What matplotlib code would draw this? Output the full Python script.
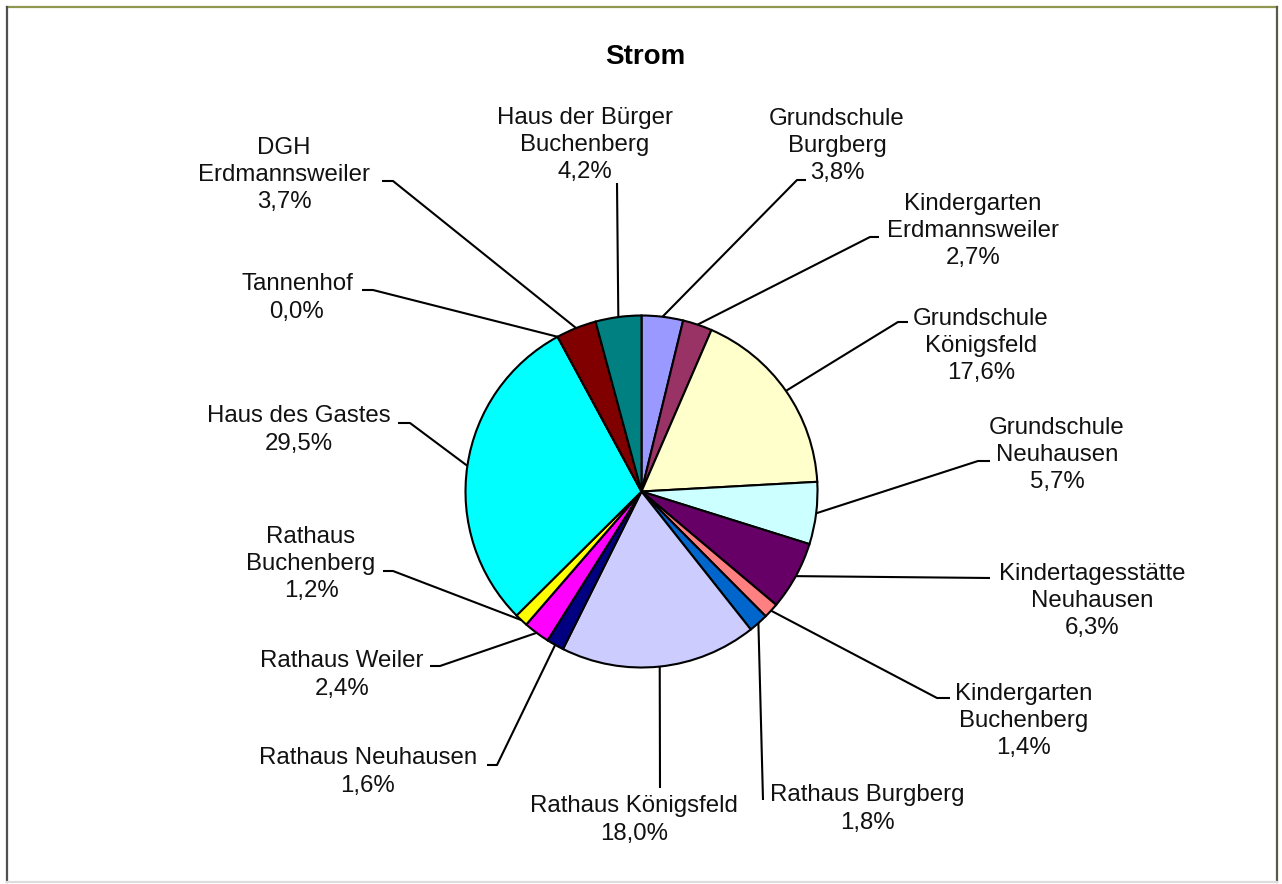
import numpy as np
import matplotlib
matplotlib.use("Agg")
import matplotlib.pyplot as plt
from matplotlib.lines import Line2D

# ---------------- data ----------------
title = "Strom"
labels = [
    "Grundschule\nBurgberg",
    "Kindergarten\nErdmannsweiler",
    "Grundschule\nKönigsfeld",
    "Grundschule\nNeuhausen",
    "Kindertagesstätte\nNeuhausen",
    "Kindergarten\nBuchenberg",
    "Rathaus Burgberg",
    "Rathaus Königsfeld",
    "Rathaus Neuhausen",
    "Rathaus Weiler",
    "Rathaus\nBuchenberg",
    "Haus des Gastes",
    "Tannenhof",
    "DGH\nErdmannsweiler",
    "Haus der Bürger\nBuchenberg",
]
values = [3.8, 2.7, 17.6, 5.7, 6.3, 1.4, 1.8, 18.0, 1.6, 2.4, 1.2, 29.5, 0.0, 3.7, 4.2]
colors = ["#9999FF", "#993366", "#FFFFCC", "#CCFFFF", "#660066", "#FF8080",
          "#0066CC", "#CCCCFF", "#000080", "#FF00FF", "#FFFF00", "#00FFFF",
          "#800080", "#800000", "#008080"]

# ---------------- layout (pixel coordinates) ----------------
W, H = 1282, 884
center = (641.5, 491.5)
radius = 176
text_pos = [(837, 146), (973, 231), (981, 346), (1057, 455), (1092, 601),
            (1024, 721), (867, 809), (634, 820), (368, 772), (342, 675),
            (311, 564), (299, 430), (297, 298), (284, 175), (585, 145)]
elbows = [(797, 180), (870, 237), (898, 322), (978, 461), (990, 578),
          (937, 698), (763, 800), (660, 788), (497, 765), (440, 666),
          (393, 571), (410, 423), (373, 290), (393, 181), (617, 183)]
ends = [(806, 180), (879, 237), (908, 322), (990, 461), (990, 578),
        (950, 698), (763, 800), (660, 788), (487, 765), (430, 666),
        (383, 571), (398, 423), (362, 290), (382, 181), (617, 183)]

plt.rcParams['font.family'] = ['Liberation Sans', 'DejaVu Sans']

fig = plt.figure(figsize=(W / 100, H / 100), dpi=100)
ax = fig.add_axes([0, 0, 1, 1])

# y axis inverted -> counterclockwise in data = clockwise on screen
wedges, _ = ax.pie(values, colors=colors, startangle=-90, counterclock=True,
                   center=center, radius=radius, frame=True,
                   wedgeprops=dict(edgecolor="black", linewidth=1.5))
ax.set_xlim(0, W)
ax.set_ylim(H, 0)
ax.set_aspect('equal')
ax.axis('off')

def fmt(v):
    return f"{v:.1f}".replace(".", ",") + "%"

for w, lab, v, tp, el, en in zip(wedges, labels, values, text_pos, elbows, ends):
    ang = np.deg2rad((w.theta1 + w.theta2) / 2)
    px = center[0] + radius * np.cos(ang)
    py = center[1] + radius * np.sin(ang)
    ax.plot([px, el[0], en[0]], [py, el[1], en[1]], color="black", lw=1.5,
            solid_capstyle="butt", zorder=1)
    ax.text(tp[0], tp[1], lab + "\n" + fmt(v), ha="center", va="center",
            multialignment="center", fontsize=17.3, linespacing=1.31, color="#111111")

ax.text(645, 57, title, ha="center", va="center", fontsize=20, fontweight="bold")

# outer frame
fig.add_artist(Line2D([7 / W, 1277 / W], [1 - 7 / H, 1 - 7 / H], color="#8E9650", lw=1.6))
fig.add_artist(Line2D([7 / W, 7 / W], [1 - 7 / H, 1 - 882 / H], color="#505050", lw=1.6))
fig.add_artist(Line2D([1277 / W, 1277 / W], [1 - 7 / H, 1 - 882 / H], color="#5A5A4A", lw=1.6))
fig.add_artist(Line2D([7 / W, 1277 / W], [1 - 882 / H, 1 - 882 / H], color="#DDDDDD", lw=1.6))

fig.savefig("out.png", dpi=100, facecolor="white")
